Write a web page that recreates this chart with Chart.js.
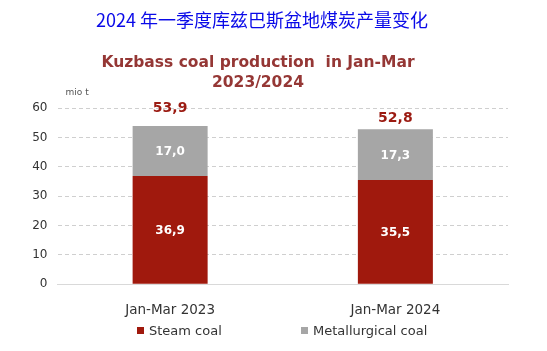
<!DOCTYPE html>
<html>
<head>
<meta charset="utf-8">
<script src="https://cdn.jsdelivr.net/npm/chart.js@4.4.1/dist/chart.umd.min.js"></script>
<style>
  html, body { margin: 0; padding: 0; background: #fff; }
  #wrap { position: relative; width: 547px; height: 351px; }
  #legend { position: absolute; left: 0; top: 322px; width: 547px; height: 18px; font-family: "DejaVu Sans", Verdana, sans-serif; font-size: 13px; color: #333; }
  .li { position: absolute; top: 0; white-space: nowrap; line-height: 18px; }
  .sw { display: inline-block; width: 7px; height: 7px; margin-right: 5px; vertical-align: 1px; }
</style>
</head>
<body>
<div id="wrap">
  <canvas id="c" width="547" height="351"></canvas>
  <div id="legend"></div>
</div>
<script>
const pageTitle = '2024 年一季度库兹巴斯盆地煤炭产量变化';
const chartTitle = ['Kuzbass coal production  in Jan-Mar', '2023/2024'];
const unitLabel = 'mio t';
const categories = ['Jan-Mar 2023', 'Jan-Mar 2024'];
const steamCoal = [36.9, 35.5];
const metallurgicalCoal = [17.0, 17.3];
const totals = [53.9, 52.8];
const seriesNames = ['Steam coal', 'Metallurgical coal'];
const yTicks = [0, 10, 20, 30, 40, 50, 60];

const RED = '#A0190D';
const GREY = '#A6A6A6';
const fmt = v => v.toFixed(1).replace('.', ',');

const titlePlugin = {
  id: 'titles',
  afterDraw(chart) {
    const ctx = chart.ctx;
    ctx.save();
    ctx.textAlign = 'center';
    ctx.textBaseline = 'middle';
    ctx.fillStyle = '#0a0ae8';
    ctx.font = '18px "Noto Sans CJK SC", sans-serif';
    ctx.fillText(pageTitle, 262, 20);
    ctx.fillStyle = '#953735';
    ctx.font = 'bold 15.5px "DejaVu Sans", sans-serif';
    ctx.fillText(chartTitle[0], 258, 63);
    ctx.fillText(chartTitle[1], 258, 83);
    ctx.fillStyle = '#555';
    ctx.font = '9px "DejaVu Sans", sans-serif';
    ctx.textAlign = 'left';
    ctx.fillText(unitLabel, chart.chartArea.left + 8, 93);
    ctx.restore();
  }
};

const labelPlugin = {
  id: 'valueLabels',
  afterDatasetsDraw(chart) {
    const ctx = chart.ctx;
    ctx.save();
    ctx.textAlign = 'center';
    ctx.textBaseline = 'middle';
    chart.data.datasets.forEach((ds, di) => {
      const meta = chart.getDatasetMeta(di);
      meta.data.forEach((bar, i) => {
        ctx.fillStyle = '#ffffff';
        ctx.font = 'bold 12px "DejaVu Sans", sans-serif';
        ctx.fillText(fmt(ds.data[i]), bar.x, (bar.y + bar.base) / 2 + 1);
      });
    });
    const topMeta = chart.getDatasetMeta(chart.data.datasets.length - 1);
    const offsets = [18, 11];
    topMeta.data.forEach((bar, i) => {
      ctx.fillStyle = '#9B1B12';
      ctx.font = 'bold 14px "DejaVu Sans", sans-serif';
      ctx.fillText(fmt(totals[i]), bar.x, bar.y - offsets[i]);
    });
    ctx.restore();
  }
};

const chart = new Chart(document.getElementById('c'), {
  type: 'bar',
  data: {
    labels: categories,
    datasets: [
      { label: seriesNames[0], data: steamCoal, backgroundColor: RED },
      { label: seriesNames[1], data: metallurgicalCoal, backgroundColor: GREY }
    ]
  },
  options: {
    responsive: false,
    animation: false,
    events: [],
    layout: { padding: { top: 108, left: 0, right: 39, bottom: 0 } },
    datasets: { bar: { categoryPercentage: 1, barPercentage: 0.333 } },
    plugins: { legend: { display: false }, title: { display: false }, tooltip: { enabled: false } },
    scales: {
      x: {
        stacked: true,
        grid: { display: false },
        border: { display: true, color: '#d9d9d9', width: 1 },
        ticks: { color: '#333', font: { family: '"DejaVu Sans", sans-serif', size: 13.5 }, padding: 10 },
        afterFit(s) { s.height = 66.7; }
      },
      y: {
        stacked: true,
        min: 0, max: 60,
        afterBuildTicks(s) { s.ticks = yTicks.map(v => ({ value: v })); },
        grid: {
          drawTicks: false,
          color: ctx => ctx.tick && ctx.tick.value === 0 ? 'rgba(0,0,0,0)' : '#cfcfcf',
          lineWidth: 1
        },
        border: { display: false, dash: [4, 3] },
        ticks: { color: '#333', font: { family: '"DejaVu Sans", sans-serif', size: 12 }, padding: 10 },
        afterFit(s) { s.width = 57.5; }
      }
    }
  },
  plugins: [titlePlugin, labelPlugin]
});

// HTML legend built from the chart's datasets
const legend = document.getElementById('legend');
const legendX = [137, 301];
chart.data.datasets.forEach((ds, i) => {
  const item = document.createElement('div');
  item.className = 'li';
  item.style.left = legendX[i] + 'px';
  const sw = document.createElement('span');
  sw.className = 'sw';
  sw.style.background = ds.backgroundColor;
  item.appendChild(sw);
  item.appendChild(document.createTextNode(ds.label));
  legend.appendChild(item);
});
</script>
</body>
</html>
